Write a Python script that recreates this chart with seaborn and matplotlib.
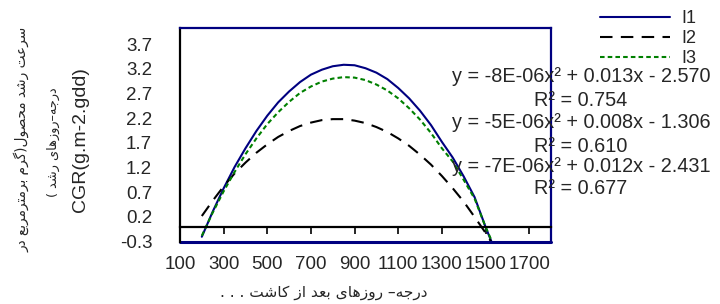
import matplotlib
matplotlib.use("Agg")
import matplotlib.pyplot as plt
import seaborn as sns
import numpy as np

# ---------------- data ----------------
x_I1 = [200, 250, 300, 350, 400, 450, 500, 550, 600, 650, 700, 750, 800, 850,
        900, 950, 1000, 1050, 1100, 1150, 1200, 1250, 1300, 1350, 1400, 1450, 1500, 1550]
y_I1 = [-0.20, 0.31, 0.78, 1.21, 1.59, 1.94, 2.25, 2.52, 2.74, 2.93, 3.08, 3.18, 3.25, 3.28,
        3.27, 3.21, 3.12, 2.99, 2.81, 2.60, 2.35, 2.06, 1.72, 1.40, 1.02, 0.60, 0.00, -0.55]

x_I2 = [200, 250, 300, 350, 400, 450, 500, 550, 600, 650, 700, 750, 800, 850,
        900, 950, 1000, 1050, 1100, 1150, 1200, 1250, 1300, 1350, 1400, 1450, 1500, 1530]
y_I2 = [0.22, 0.53, 0.82, 1.08, 1.30, 1.50, 1.67, 1.82, 1.94, 2.04, 2.11, 2.16, 2.18, 2.18,
        2.15, 2.10, 2.02, 1.92, 1.79, 1.64, 1.46, 1.26, 1.03, 0.78, 0.51, 0.20, -0.12, -0.33]

x_I3 = [200, 250, 300, 350, 400, 450, 500, 550, 600, 650, 700, 750, 800, 850,
        900, 950, 1000, 1050, 1100, 1150, 1200, 1250, 1300, 1350, 1400, 1450, 1500, 1550]
y_I3 = [-0.18, 0.29, 0.72, 1.11, 1.47, 1.79, 2.08, 2.32, 2.53, 2.71, 2.84, 2.94, 3.00, 3.03,
        3.02, 2.97, 2.88, 2.76, 2.60, 2.40, 2.17, 1.90, 1.59, 1.32, 0.95, 0.57, 0.00, -0.50]

series_labels = ["I1", "I2", "I3"]
x_ticks = [100, 300, 500, 700, 900, 1100, 1300, 1500, 1700]
y_ticks = [-0.3, 0.2, 0.7, 1.2, 1.7, 2.2, 2.7, 3.2, 3.7]
y_tick_labels = ["-0.3", "0.2", "0.7", "1.2", "1.7", "2.2", "2.7", "3.2", "3.7"]

equations = ["y = -8E-06x\u00b2 + 0.013x - 2.570", "R\u00b2 = 0.754",
             "y = -5E-06x\u00b2 + 0.008x - 1.306", "R\u00b2 = 0.610",
             "y = -7E-06x\u00b2 + 0.012x - 2.431", "R\u00b2 = 0.677"]

ylabel_fa_1 = "سرعت رشد محصول(گرم برمترمربع در"
ylabel_fa_2 = "درجه–روزهای رشد )"
ylabel_en = "CGR(g.m-2.gdd)"
xlabel_fa = "درجه– روزهای بعد از کاشت . . ."

# ---------------- simple Persian shaping ----------------
FORMS = {
    '\u0627': ('\uFE8D', '\uFE8E', None, None),
    '\u0628': ('\uFE8F', '\uFE90', '\uFE91', '\uFE92'),
    '\u062A': ('\uFE95', '\uFE96', '\uFE97', '\uFE98'),
    '\u062C': ('\uFE9D', '\uFE9E', '\uFE9F', '\uFEA0'),
    '\u062D': ('\uFEA1', '\uFEA2', '\uFEA3', '\uFEA4'),
    '\u062F': ('\uFEA9', '\uFEAA', None, None),
    '\u0631': ('\uFEAD', '\uFEAE', None, None),
    '\u0632': ('\uFEAF', '\uFEB0', None, None),
    '\u0633': ('\uFEB1', '\uFEB2', '\uFEB3', '\uFEB4'),
    '\u0634': ('\uFEB5', '\uFEB6', '\uFEB7', '\uFEB8'),
    '\u0635': ('\uFEB9', '\uFEBA', '\uFEBB', '\uFEBC'),
    '\u0639': ('\uFEC9', '\uFECA', '\uFECB', '\uFECC'),
    '\u06A9': ('\uFB8E', '\uFB8F', '\uFB90', '\uFB91'),
    '\u06AF': ('\uFB92', '\uFB93', '\uFB94', '\uFB95'),
    '\u0644': ('\uFEDD', '\uFEDE', '\uFEDF', '\uFEE0'),
    '\u0645': ('\uFEE1', '\uFEE2', '\uFEE3', '\uFEE4'),
    '\u0647': ('\uFEE9', '\uFEEA', '\uFEEB', '\uFEEC'),
    '\u0648': ('\uFEED', '\uFEEE', None, None),
    '\u06CC': ('\uFBFC', '\uFBFD', '\uFBFE', '\uFBFF'),
}


def fa(text):
    out = []
    n = len(text)
    for i, c in enumerate(text):
        if c not in FORMS:
            out.append(c)
            continue
        iso, fin, ini, med = FORMS[c]
        prev = text[i - 1] if i > 0 else None
        nxt = text[i + 1] if i + 1 < n else None
        jp = prev in FORMS and FORMS[prev][2] is not None
        jn = (nxt in FORMS) and ini is not None
        if jp and jn:
            out.append(med)
        elif jp:
            out.append(fin)
        elif jn:
            out.append(ini)
        else:
            out.append(iso)
    s = ''.join(out)[::-1]
    s = s.translate(str.maketrans({'(': ')', ')': '('}))
    return s


# ---------------- plotting ----------------
sns.set_style("white")
plt.rcParams['font.family'] = ['Liberation Sans', 'DejaVu Sans']

W, H = 720, 304
fig = plt.figure(figsize=(7.2, 3.04), dpi=100)
ax = fig.add_axes([180 / W, 1 - 241.7 / H, (551 - 180) / W, (241.7 - 27.7) / H])

navy = '#000080'
green = '#008000'

sns.lineplot(x=x_I1, y=y_I1, ax=ax, color=navy, lw=1.5, label=series_labels[0], sort=False)
sns.lineplot(x=x_I2, y=y_I2, ax=ax, color='black', lw=1.5, label=series_labels[1], sort=False)
sns.lineplot(x=x_I3, y=y_I3, ax=ax, color=green, lw=1.5, label=series_labels[2], sort=False)
lines = ax.get_lines()
lines[1].set_dashes([6, 4])
lines[2].set_dashes([2.2, 1.5])

ax.set_xlim(100, 1800)
ax.set_ylim(-0.3, 4.03)
ax.set_xticks(x_ticks)
ax.set_xticklabels([str(v) for v in x_ticks])
ax.set_yticks(y_ticks)
ax.set_yticklabels(y_tick_labels)
ax.set_xlabel("")
ax.set_ylabel("")

for side in ['top', 'right']:
    ax.spines[side].set_color(navy)
    ax.spines[side].set_linewidth(1.6)
ax.spines['left'].set_color('black')
ax.spines['left'].set_linewidth(1.6)
ax.spines['bottom'].set_position(('data', 0))
ax.spines['bottom'].set_color('black')
ax.spines['bottom'].set_linewidth(1.6)
ax.axhline(-0.3, color=navy, lw=2.2, clip_on=False)

ax.tick_params(axis='x', bottom=True, direction='out', length=5, width=1.2, color='black',
               labelsize=13.5, pad=16)
ax.tick_params(axis='y', left=False, length=0, labelsize=13.5, pad=20)

leg = ax.legend(loc='upper left', bbox_to_anchor=(600 / W, 1 - 10 / H),
                bbox_transform=fig.transFigure, frameon=False, fontsize=13,
                handlelength=3.9, handletextpad=0.6, labelspacing=0.17,
                borderpad=0, borderaxespad=0)

eq_y = [77, 100, 123, 147, 167, 188]
for txt, yy in zip(equations, eq_y):
    fig.text(581 / W, 1 - yy / H, txt, ha='center', va='center', fontsize=14.3)

fig.text(22 / W, 1 - 139 / H, fa(ylabel_fa_1), rotation=90, ha='center', va='center',
         fontsize=9.8, family=['DejaVu Sans'])
fig.text(53 / W, 1 - 142 / H, fa(ylabel_fa_2), rotation=90, ha='center', va='center',
         fontsize=9.3, family=['DejaVu Sans'])
fig.text(81 / W, 1 - 140 / H, ylabel_en, rotation=90, ha='center', va='center',
         fontsize=14)
fig.text(324 / W, 1 - 292 / H, fa(xlabel_fa), ha='center', va='center',
         fontsize=11.1, family=['DejaVu Sans'])

fig.savefig("out.png", dpi=100)
